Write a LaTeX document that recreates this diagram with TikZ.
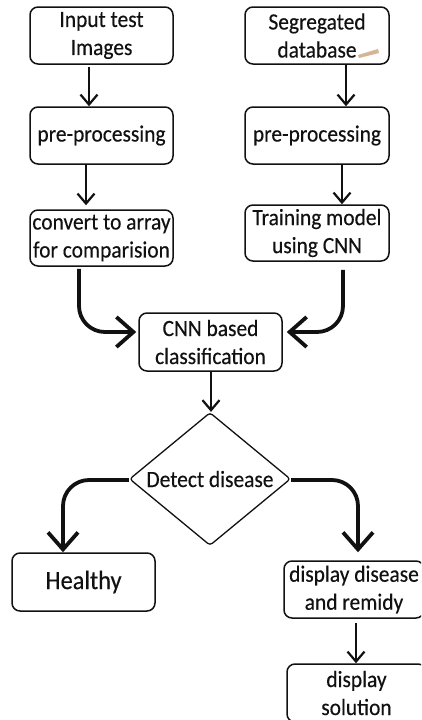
\documentclass[tikz,border=0pt]{standalone}
\usepackage{fontspec}
\setmainfont{Carlito}[FakeBold=0.3,FakeStretch=0.92]
\usetikzlibrary{arrows.meta,shapes.geometric}
\definecolor{ink}{HTML}{111111}
\definecolor{smudge}{HTML}{D6B594}
\begin{document}
\begin{tikzpicture}[x=1pt,y=-1pt,
  box/.style={draw=ink, line width=1.5pt, rounded corners=8pt, align=center, inner sep=0pt,
    font=\fontsize{23.3}{28}\selectfont, text=ink, minimum width=143pt, minimum height=57pt},
  arr/.style={draw=ink, line width=2.2pt, -{Straight Barb[length=10pt,width=17pt,line width=2.2pt]}},
  bigarr/.style={draw=ink, line width=3.8pt, rounded corners=26pt,
    -{Straight Barb[length=17pt,width=30pt,line width=3.8pt]}}]
\clip (0,0) rectangle (421,720);
\fill[white] (0,0) rectangle (421,720);
% left column
\node[box] (in) at (101.5,35.5) {Input test\\Images};
\node[box] (pl) at (101.5,135.5) {pre-processing};
\node[box, minimum height=56pt] (cv) at (101.5,238) {convert to array\\for comparision};
% right column
\node[box, minimum width=144pt] (sd) at (317,35.5) {Segregated\\database};
\node[box, minimum width=144pt] (pr) at (317,135.5) {pre-processing};
\node[box, minimum width=144pt, minimum height=56pt] (tr) at (317,233) {Training model\\using CNN};
\fill[smudge] (358,55) -- (378,49) -- (379,53) -- (359,58) -- cycle;
% middle
\node[box, minimum height=58pt] (cnn) at (210.5,342) {CNN based\\classification};
\node[draw=ink, line width=1.3pt, shape=diamond, aspect=1.21, minimum width=161pt, minimum height=133pt,
  inner sep=0pt, rounded corners=3pt, font=\fontsize{23.3}{28}\selectfont, text=ink] (dia) at (210,479) {Detect disease};
% bottom
\node[box, minimum height=58pt, font=\fontsize{26.5}{30}\selectfont] (hl) at (83.5,582) {Healthy};
\node[box, minimum width=140pt] (dd) at (354,589.5) {display disease\\and remidy};
\node[box, minimum width=139pt, minimum height=58pt] (sol) at (356.5,693) {display\\solution};
% connectors
\draw[arr] ([xshift=-12.5pt,yshift=-2pt]in.south) -- ([xshift=-12.5pt]pl.north);
\draw[arr] ([xshift=-15.5pt]pl.south) -- ([xshift=-15.5pt,yshift=4pt]cv.north);
\draw[arr] ([xshift=29pt]sd.south) -- ([xshift=29pt]pr.north);
\draw[arr] ([xshift=25pt]pr.south) -- ([xshift=25pt]tr.north);
\draw[bigarr] ([xshift=-22.5pt,yshift=-2pt]cv.south) |- ([xshift=-2pt,yshift=10pt]cnn.west);
\draw[bigarr] ([xshift=26pt,yshift=-8pt]tr.south) |- ([xshift=4pt,yshift=10pt]cnn.east);
\draw[arr] ([xshift=0.5pt]cnn.south) -- ([xshift=1pt]dia.north);
\draw[bigarr] ([yshift=-1pt]dia.west) -| ([xshift=-20.5pt]hl.north);
\draw[bigarr] ([yshift=-1pt]dia.east) -| ([xshift=4pt,yshift=8pt]dd.north);
\draw[arr] ([xshift=2pt,yshift=-4pt]dd.south) -- ([xshift=-0.5pt]sol.north);
\end{tikzpicture}
\end{document}
